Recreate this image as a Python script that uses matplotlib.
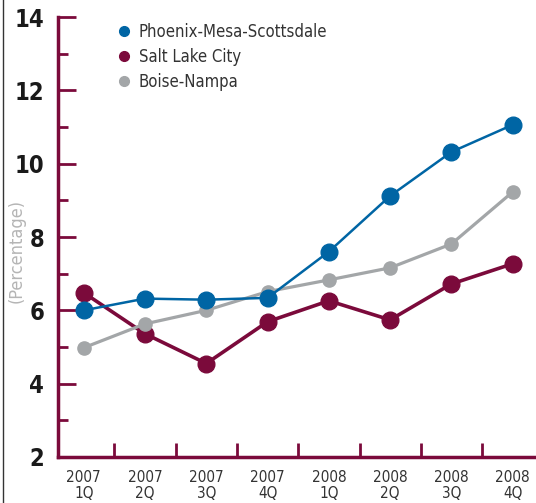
import matplotlib.pyplot as plt
from matplotlib.lines import Line2D

plt.rcParams['font.family'] = ['DejaVu Sans']
plt.rcParams['font.stretch'] = 'condensed'

# ----- DATA ------
quarters = ['2007\n1Q', '2007\n2Q', '2007\n3Q', '2007\n4Q',
            '2008\n1Q', '2008\n2Q', '2008\n3Q', '2008\n4Q']
phoenix = [6.0, 6.32, 6.29, 6.34, 7.6, 9.12, 10.32, 11.06]
salt_lake = [6.48, 5.36, 4.55, 5.69, 6.26, 5.74, 6.72, 7.27]
boise = [4.98, 5.63, 6.0, 6.51, 6.83, 7.16, 7.81, 9.23]
names = ['Phoenix-Mesa-Scottsdale', 'Salt Lake City', 'Boise-Nampa']

blue = '#0065a4'
maroon = '#7b0a3b'
grey = '#a3a6a8'

fig = plt.figure(figsize=(5.36, 5.03), dpi=100)
ax = fig.add_axes([58 / 536, 1 - 457 / 503, 1 - 58 / 536, 440 / 503])

x = list(range(len(quarters)))
ax.plot(x, salt_lake, color=maroon, lw=2.6, marker='o', ms=12, zorder=2)
ax.plot(x, boise, color=grey, lw=2.3, marker='o', ms=9.5, zorder=3)
ax.plot(x, phoenix, color=blue, lw=1.8, marker='o', ms=12, zorder=4)

ax.set_ylim(2, 14)
ax.set_xlim(-0.42, 7.38)
ax.set_yticks(range(2, 15, 2))
ax.set_yticks(range(3, 14, 2), minor=True)
ax.set_xticks([i + 0.5 for i in range(7)])
ax.set_xticklabels([])
ax.tick_params(axis='y', which='major', direction='in', length=13, width=2,
               color=maroon, labelsize=17, pad=10)
ax.tick_params(axis='y', which='minor', direction='in', length=7, width=2, color=maroon)
ax.tick_params(axis='x', direction='in', length=10, width=2, color=maroon)
for lab in ax.get_yticklabels():
    lab.set_fontweight('bold')
    lab.set_color('#1a1a1a')

# quarter labels under each point
for i, q in enumerate(quarters):
    ax.text(i, 2 - 0.36, q, ha='center', va='top', fontsize=11,
            color='#333333', linespacing=1.05, clip_on=False)

for side in ['top', 'right']:
    ax.spines[side].set_visible(False)
for side in ['left', 'bottom']:
    ax.spines[side].set_color(maroon)
    ax.spines[side].set_linewidth(2.5)

fig.text(17 / 536, 1 - 251 / 503, '(Percentage)', rotation=90, ha='center', va='center',
         fontsize=13, color='#b5b5b5')

handles = [Line2D([], [], ls='none', marker='o', ms=7, color=c) for c in [blue, maroon, grey]]
ax.legend(handles, names, loc='upper left', bbox_to_anchor=(0.085, 1.02), frameon=False,
          fontsize=12, handletextpad=0.3, labelspacing=0.42, handlelength=1.2,
          labelcolor='#333333')

fig.add_artist(Line2D([2.5 / 536, 2.5 / 536], [0, 1], color='#333333', lw=1))

fig.savefig('out.png', dpi=100)
